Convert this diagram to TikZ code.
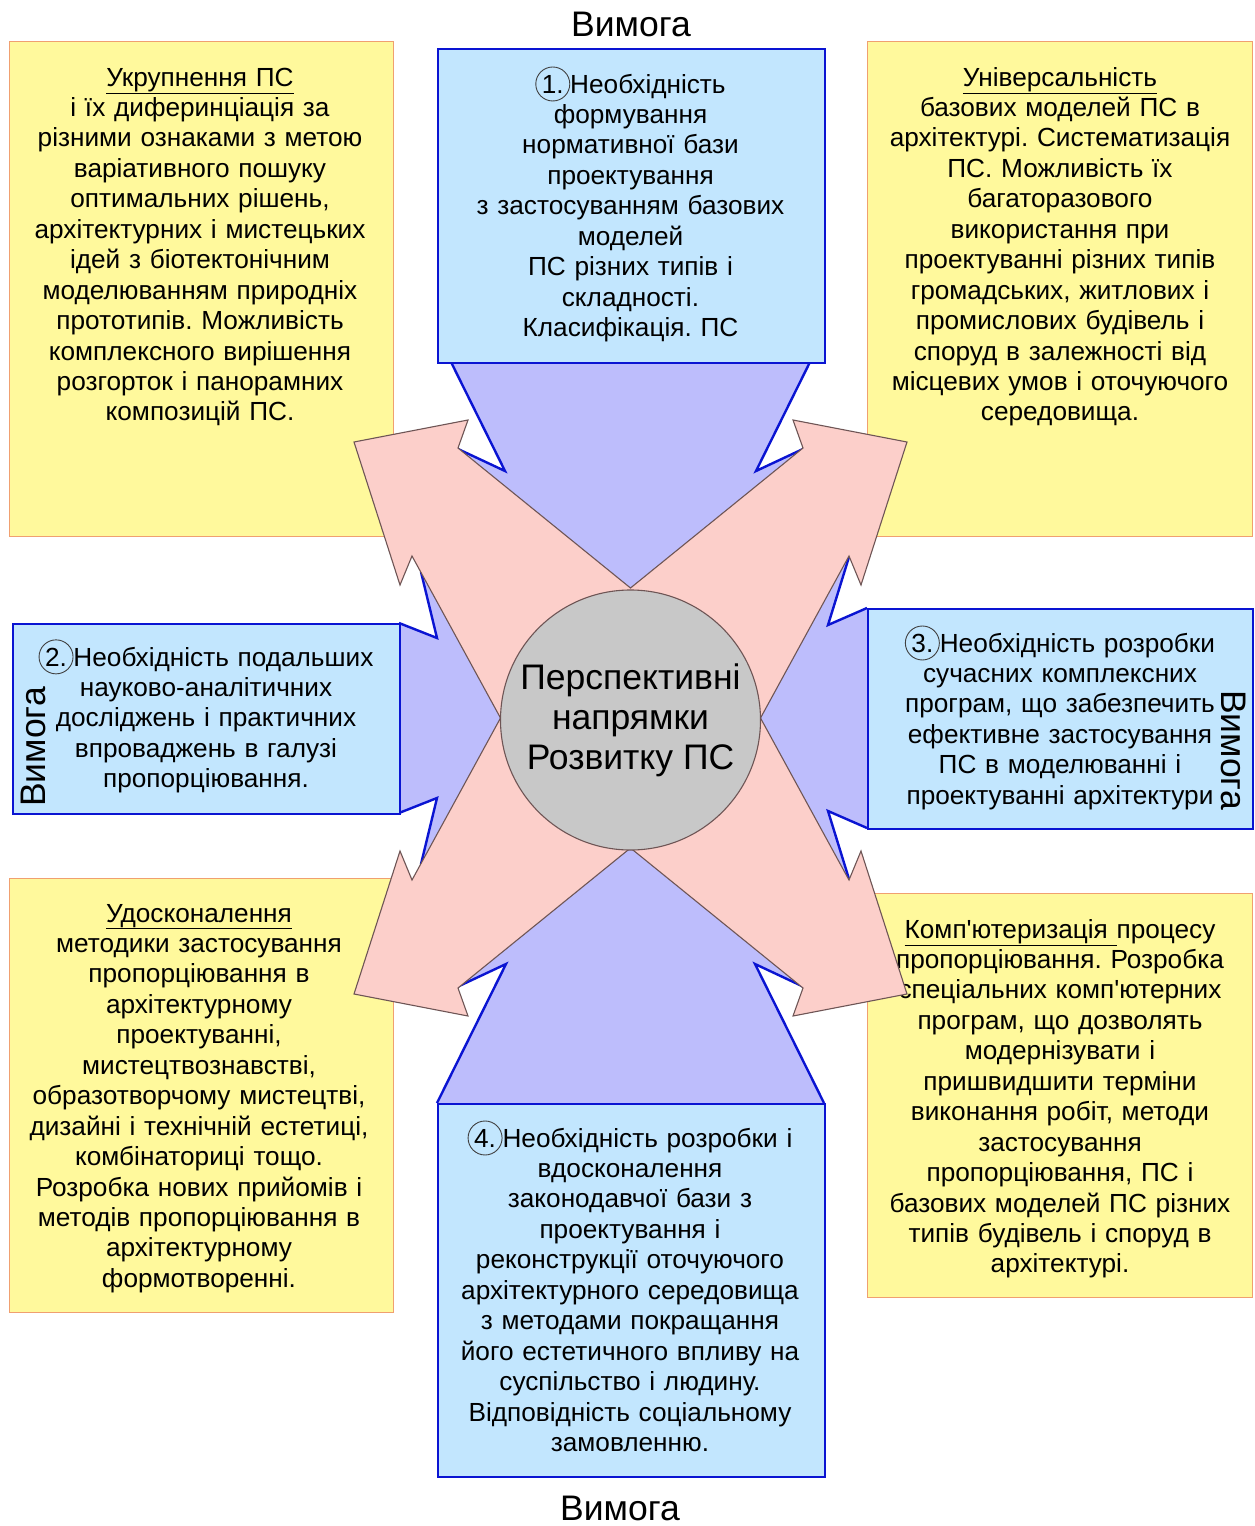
\documentclass[tikz,border=0pt]{standalone}
\usepackage{fontspec}
\setmainfont{Liberation Sans}
\frenchspacing
\definecolor{yelfill}{HTML}{FFF99C}
\definecolor{yelline}{HTML}{F0A070}
\definecolor{blurect}{HTML}{C2E6FE}
\definecolor{blutri}{HTML}{BDBDFC}
\definecolor{bluline}{HTML}{0A14D2}
\definecolor{pinkfill}{HTML}{FCCFCA}
\definecolor{pinkline}{HTML}{6E5555}
\definecolor{hubfill}{HTML}{C8C8C8}
\definecolor{numline}{HTML}{404040}
\newcommand\numc[1]{\tikz[baseline=(nc.base)]\node[draw=numline,circle,inner sep=0pt,minimum size=34pt,line width=0.9pt](nc){#1};}
\newcommand\undl[1]{\underline{#1}}
\tikzset{
  ybox/.style={fill=yelfill, draw=yelline, line width=1.3pt, inner sep=0pt, anchor=north west},
  bbox/.style={fill=blurect, draw=bluline, line width=2.2pt, inner sep=0pt, anchor=north west},
  btri/.style={fill=blutri},
  bedge/.style={draw=bluline, line width=2.4pt, line join=miter},
  pinkx/.style={fill=pinkfill, draw=pinkline, line width=1.1pt, line join=miter},
  hub/.style={circle, fill=hubfill, draw=pinkline, line width=1.1pt, minimum size=260pt, inner sep=0pt, align=center, font=\fontsize{35.5}{40}\selectfont},
  body/.style={font=\fontsize{26.2}{30.45}\selectfont, align=center, inner sep=0pt, text width=430pt, anchor=base},
  vlabel/.style={font=\fontsize{35.5}{40}\selectfont, inner sep=0pt},
}
\begin{document}
\begin{tikzpicture}[x=1pt,y=-1pt]
\useasboundingbox (0,0) rectangle (1254,1526);
\fill[white] (0,0) rectangle (1254,1526);
% yellow boxes
\node[ybox, minimum width=384pt, minimum height=495pt] (ytl) at (9,41) {};
\node[ybox, minimum width=385pt, minimum height=495pt] (ytr) at (867,41) {};
\node[ybox, minimum width=384pt, minimum height=434pt] (ybl) at (9,878) {};
\node[ybox, minimum width=385pt, minimum height=404pt] (ybr) at (867,893) {};
\node[body] (ttl) at (200,86) {\undl{Укрупнення ПС}\\
і їх диферинціація за\\
різними ознаками з метою\\
варіативного пошуку\\
оптимальних рішень,\\
архітектурних і мистецьких\\
ідей з біотектонічним\\
моделюванням природніх\\
прототипів. Можливість\\
комплексного вирішення\\
розгорток і панорамних\\
композицій ПС.};
\node[body] (ttr) at (1060,86) {\undl{Універсальність}\\
базових моделей ПС в\\
архітектурі. Систематизація\\
ПС. Можливість їх\\
багаторазового\\
використання при\\
проектуванні різних типів\\
громадських, житлових і\\
промислових будівель і\\
споруд в залежності від\\
місцевих умов і оточуючого\\
середовища.};
\node[body] (tbl) at (199,922) {\undl{Удосконалення}\\
методики застосування\\
пропорціювання в\\
архітектурному\\
проектуванні,\\
мистецтвознавстві,\\
образотворчому мистецтві,\\
дизайні і технічній естетиці,\\
комбінаториці тощо.\\
Розробка нових прийомів і\\
методів пропорціювання в\\
архітектурному\\
формотворенні.};
\node[body] (tbr) at (1060,938) {\undl{Комп\textquotesingle ютеризація\ }процесу\\
пропорціювання. Розробка\\
спеціальних комп\textquotesingle ютерних\\
програм, що дозволять\\
модернізувати і\\
пришвидшити терміни\\
виконання робіт, методи\\
застосування\\
пропорціювання, ПС і\\
базових моделей ПС різних\\
типів будівель і споруд в\\
архітектурі.};
% blue arrow bodies
\fill[btri] (451,362) -- (505,471) -- (458,449) -- (630.5,588) -- (803,449) -- (756,471) -- (810,362) -- cycle;
\draw[bedge] (451,362) -- (505,471) -- (458,449);
\draw[bedge] (810,362) -- (756,471) -- (803,449);
\fill[btri] (399,623) -- (437,638) -- (421,572) -- (500.5,718) -- (421,864) -- (437,798) -- (399,813) -- cycle;
\draw[bedge] (399,623) -- (437,638) -- (421,572);
\draw[bedge] (399,813) -- (437,798) -- (421,864);
\fill[btri] (867,608) -- (828,625) -- (849,557) -- (760.5,718) -- (849,879) -- (828,811) -- (867,828) -- cycle;
\draw[bedge] (867,608) -- (828,625) -- (849,557);
\draw[bedge] (867,828) -- (828,811) -- (849,879);
\fill[btri] (437,1103) -- (506,964) -- (457,987) -- (630.5,848) -- (804,987) -- (755,964) -- (824,1103) -- cycle;
\draw[bedge] (437,1103) -- (506,964) -- (457,987);
\draw[bedge] (824,1103) -- (755,964) -- (804,987);
% blue boxes
\node[bbox, minimum width=387pt, minimum height=314pt] (btop) at (437,48) {};
\node[bbox, minimum width=387pt, minimum height=190pt] (bleft) at (12,623) {};
\node[bbox, minimum width=385pt, minimum height=220pt] (bright) at (867,608) {};
\node[bbox, minimum width=387pt, minimum height=373pt] (bbot) at (437,1103) {};
\node[body] (ttop) at (630.5,93) {\numc{1.}Необхідність\\
формування\\
нормативної бази\\
проектування\\
з застосуванням базових\\
моделей\\
ПС різних типів і\\
складності.\\
Класифікація. ПС};
\node[body] (tleft) at (206,666) {\numc{2.}Необхідність подальших\\
науково-аналітичних\\
досліджень і практичних\\
впроваджень в галузі\\
пропорціювання.};
\node[body] (tright) at (1060,652) {\numc{3.}Необхідність розробки\\
сучасних комплексних\\
програм, що забезпечить\\
ефективне застосування\\
ПС в моделюванні і\\
проектуванні архітектури};
\node[body] (tbot) at (630,1147) {\numc{4.}Необхідність розробки і\\
вдосконалення\\
законодавчої бази з\\
проектування і\\
реконструкції оточуючого\\
архітектурного середовища\\
з методами покращання\\
його естетичного впливу на\\
суспільство і людину.\\
Відповідність соціальному\\
замовленню.};
% pink X arrows
\draw[pinkx] (630.5,588) -- (803,448) -- (793,420) -- (907,442) -- (861,585) -- (849,556)
  -- (760.5,718) -- (849,880) -- (861,851) -- (907,994) -- (793,1016) -- (803,988)
  -- (630.5,848) -- (458,988) -- (468,1016) -- (354,994) -- (400,851) -- (412,880)
  -- (500.5,718) -- (412,556) -- (400,585) -- (354,442) -- (468,420) -- (458,448) -- cycle;
% hub
\node[hub] (hub) at (630.5,720) {Перспективні\\напрямки\\Розвитку ПС};
% requirement labels
\node[vlabel] (vtop) at (631,24) {Вимога};
\node[vlabel] (vbot) at (620,1508) {Вимога};
\node[vlabel, rotate=90] (vleft) at (33,747) {Вимога};
\node[vlabel, rotate=-90] (vright) at (1234,750) {Вимога};
\end{tikzpicture}
\end{document}
